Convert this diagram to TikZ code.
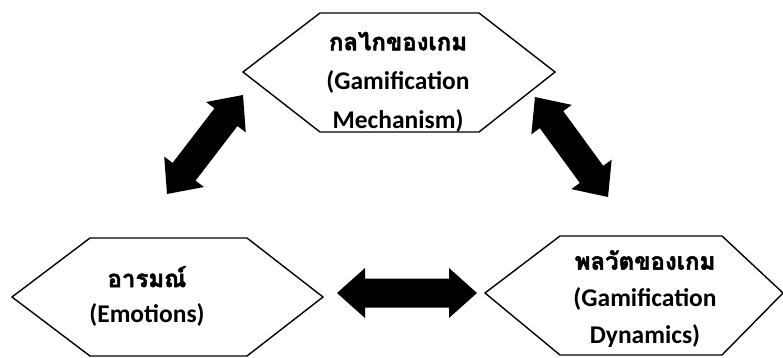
\documentclass[tikz,border=0pt]{standalone}
\usepackage{fontspec}
\setmainfont{Carlito}
\newfontfamily\thaifont[Script=Thai,FakeBold=2]{Loma}
\usetikzlibrary{calc}
\tikzset{
  hexa/.style={draw=black, line width=1.4pt, line join=miter},
  txt/.style={font=\bfseries\fontsize{25.5}{39}\selectfont, align=center, inner sep=0pt},
  blockarrow/.style={fill=black, draw=none},
}
\newcommand{\dblblock}[2]{%
  \coordinate (h1) at ($(#1)!28pt!(#2)$);
  \coordinate (h2) at ($(#2)!28pt!(#1)$);
  \fill[blockarrow] (#1) -- ($(h1)!25pt!90:(#2)$) -- ($(h1)!14.5pt!90:(#2)$)
    -- ($(h2)!14.5pt!-90:(#1)$) -- ($(h2)!25pt!-90:(#1)$) -- (#2)
    -- ($(h2)!25pt!90:(#1)$) -- ($(h2)!14.5pt!90:(#1)$)
    -- ($(h1)!14.5pt!-90:(#2)$) -- ($(h1)!25pt!-90:(#2)$) -- cycle;
}
\begin{document}
\begin{tikzpicture}[x=1pt,y=-1pt]
\useasboundingbox (0,0) rectangle (783,357);
% hexagons
\draw[hexa] (320,13) -- (479,13) -- (555,72) -- (479,132) -- (320,132) -- (243,72) -- cycle;
\draw[hexa] (90,238) -- (247,238) -- (323,297) -- (247,356) -- (90,356) -- (12,297) -- cycle;
\draw[hexa] (560,236) -- (722,236) -- (783,293) -- (722,355) -- (560,355) -- (485,293) -- cycle;
% texts
\node[txt] (mech) at (398,82) {{\thaifont\fontsize{24}{39}\selectfont กลไกของเกม}\\(Gamification\\Mechanism)};
\node[txt,font=\bfseries\fontsize{25.5}{35}\selectfont] (emo) at (147,296) {{\thaifont\fontsize{24}{35}\selectfont อารมณ์}\\(Emotions)};
\node[txt,font=\bfseries\fontsize{25.5}{37}\selectfont] (dyn) at (645,299) {{\thaifont\fontsize{24}{37}\selectfont พลวัตของเกม}\\(Gamification\\Dynamics)};
% arrow tips
\coordinate (la) at (243,95);
\coordinate (lb) at (167,194);
\coordinate (ra) at (535,97);
\coordinate (rb) at (608,197);
\coordinate (ha) at (337,293);
\coordinate (hb) at (477,293);
\dblblock{la}{lb}
\dblblock{ra}{rb}
\dblblock{ha}{hb}
\end{tikzpicture}
\end{document}
